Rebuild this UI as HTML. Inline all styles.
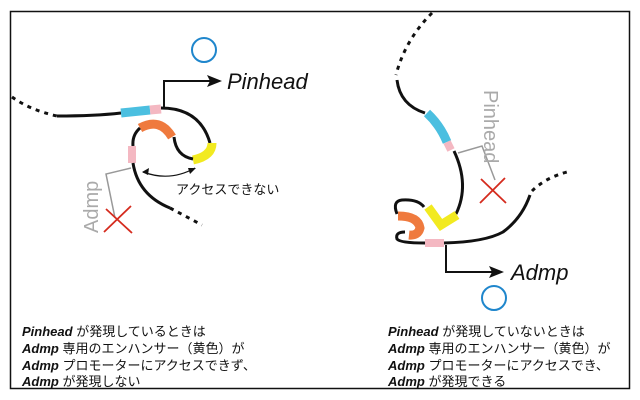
<!DOCTYPE html>
<html><head><meta charset="utf-8"><style>
html,body{margin:0;padding:0;background:#fff;}
svg{display:block;}
text{font-family:"Liberation Sans","Noto Sans CJK JP",sans-serif;}
</style></head><body>
<svg width="640" height="400" viewBox="0 0 640 400" xmlns="http://www.w3.org/2000/svg">
<rect x="10.5" y="11.5" width="619" height="377" fill="#fff" stroke="#111" stroke-width="1.5"/>
<!-- LEFT -->
<g fill="none" stroke-linecap="butt">
<path d="M12,97 Q30,110 57,116" stroke="#111" stroke-width="3" stroke-dasharray="4,5"/>
<path d="M57,116 Q95,116 121,113" stroke="#111" stroke-width="3"/>
<path d="M121,113 L150,110" stroke="#4bbfe0" stroke-width="9"/>
<path d="M150,110 L161,109" stroke="#f4b8c2" stroke-width="9"/>
<path d="M161,108 Q200,108 210,143" stroke="#111" stroke-width="3"/>
<path d="M212,143 Q212,156 193,160" stroke="#f2ea20" stroke-width="9"/>
<path d="M193,159 Q176,156 174,137" stroke="#111" stroke-width="3"/>
<path d="M172,137 Q160,117 140,128" stroke="#ef7a3e" stroke-width="9"/>
<path d="M140,128 Q132,135 133,146" stroke="#111" stroke-width="3"/>
<path d="M132,146 L132,163" stroke="#f4b8c2" stroke-width="8"/>
<path d="M133,163 Q138,195 170,208" stroke="#111" stroke-width="3"/>
<path d="M170,208 L202,225" stroke="#111" stroke-width="3" stroke-dasharray="4,5"/>
<path d="M164,108 L164,81 L212,81" stroke="#111" stroke-width="2"/>
<path d="M143,172 Q170,182 195,168" stroke="#111" stroke-width="1.2"/>
<path d="M131,168 L106,174 L115,218" stroke="#999" stroke-width="1.5"/>
<path d="M106,209 L132,233 M104,232 L131,206" stroke="#d52b1e" stroke-width="1.8"/>
<circle cx="204" cy="50" r="12" stroke="#1f86cc" stroke-width="2"/>
</g>
<polygon points="222,81 207,75 210,81 207,87" fill="#111"/>
<polygon points="142,172 149,168 148,175" fill="#111"/>
<polygon points="196,168 188,168 190,174" fill="#111"/>
<text x="227" y="89" font-size="22" font-style="italic" fill="#111">Pinhead</text>
<text x="176" y="194" font-size="13" fill="#111">アクセスできない</text>
<text transform="translate(98,233) rotate(-90)" font-size="20" fill="#aaa">Admp</text>
<!-- RIGHT -->
<g fill="none">
<path d="M432,13 Q405,40 396,75" stroke="#111" stroke-width="3" stroke-dasharray="4,5"/>
<path d="M397,80 Q400,105 425,113" stroke="#111" stroke-width="3"/>
<path d="M427,113 Q440,125 447,142" stroke="#4bbfe0" stroke-width="9"/>
<path d="M447,142 L451,150" stroke="#f4b8c2" stroke-width="8"/>
<path d="M454,151 Q470,185 456,214" stroke="#111" stroke-width="3"/>
<path d="M428,207 L441,225 L457,215" stroke="#f2ea20" stroke-width="9" stroke-linejoin="miter"/>
<path d="M397,214 Q392,201 402,200 Q418,199 424,207" stroke="#111" stroke-width="3"/>
<path d="M398,216 Q418,216 420,228 Q418,236 409,235" stroke="#ef7a3e" stroke-width="9"/>
<path d="M405,232 Q395,232 397,239 Q400,243 425,243" stroke="#111" stroke-width="3"/>
<path d="M425,243 L444,243" stroke="#f4b8c2" stroke-width="8"/>
<path d="M444,243 Q485,242 503,232 Q522,218 530,195" stroke="#111" stroke-width="3"/>
<path d="M532,191 Q545,178 567,172" stroke="#111" stroke-width="3" stroke-dasharray="4,5"/>
<path d="M458,153 L482,146 L495,180" stroke="#999" stroke-width="1.5"/>
<path d="M481,179 L506,203 M480,203 L505,178" stroke="#d52b1e" stroke-width="1.8"/>
<path d="M446,245 L446,272 L494,272" stroke="#111" stroke-width="2"/>
<circle cx="494" cy="298" r="12" stroke="#1f86cc" stroke-width="2"/>
</g>
<polygon points="504,272 489,266 492,272 489,278" fill="#111"/>
<text x="511" y="280" font-size="22" font-style="italic" fill="#111">Admp</text>
<text transform="translate(484,90) rotate(90)" font-size="20" fill="#aaa">Pinhead</text>
<!-- captions -->
<g font-size="13" fill="#111">
<text x="22" y="336"><tspan font-weight="bold" font-style="italic">Pinhead</tspan> が発現しているときは</text>
<text x="22" y="353"><tspan font-weight="bold" font-style="italic">Admp</tspan> 専用のエンハンサー（黄色）が</text>
<text x="22" y="370"><tspan font-weight="bold" font-style="italic">Admp</tspan> プロモーターにアクセスできず、</text>
<text x="22" y="386"><tspan font-weight="bold" font-style="italic">Admp</tspan> が発現しない</text>
<text x="388" y="336"><tspan font-weight="bold" font-style="italic">Pinhead</tspan> が発現していないときは</text>
<text x="388" y="353"><tspan font-weight="bold" font-style="italic">Admp</tspan> 専用のエンハンサー（黄色）が</text>
<text x="388" y="370"><tspan font-weight="bold" font-style="italic">Admp</tspan> プロモーターにアクセスでき、</text>
<text x="388" y="386"><tspan font-weight="bold" font-style="italic">Admp</tspan> が発現できる</text>
</g>
</svg>
</body></html>
